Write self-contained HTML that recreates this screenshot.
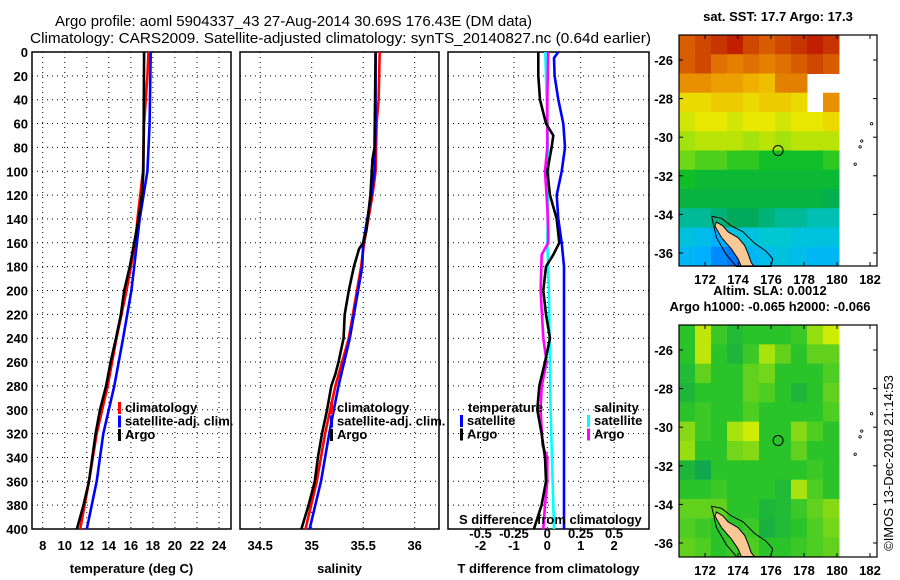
<!DOCTYPE html>
<html><head><meta charset="utf-8"><style>
html,body{margin:0;padding:0;background:#fff;}
svg{display:block;font-family:"Liberation Sans",Arial,sans-serif;}
.tk{font-size:13px;font-weight:bold;}
</style></head><body>
<svg id="c" width="900" height="580" viewBox="0 0 900 580" xmlns="http://www.w3.org/2000/svg">
<text x="55" y="26" font-size="15" textLength="477" lengthAdjust="spacingAndGlyphs">Argo profile: aoml 5904337_43 27-Aug-2014 30.69S 176.43E (DM data)</text>
<text x="30" y="43" font-size="15" textLength="621" lengthAdjust="spacingAndGlyphs">Climatology: CARS2009. Satellite-adjusted climatology: synTS_20140827.nc (0.64d earlier)</text>
<g id="g"></g>
</svg>
<script>
// ---- data ----
const depthArgoT=[0,100,120,140,160,180,200,220,240,260,280,300,320,340,360,380,400];
const tempArgo=[17.2,17.14,17.0,16.7,16.3,15.9,15.4,15.1,14.65,14.16,13.75,13.2,12.8,12.5,12.2,11.7,11.1];
const depthClimT=[0,20,60,100,140,160,180,200,240,280,320,360,400];
const tempClim=[17.6,17.5,17.2,17.1,16.6,16.4,16.0,15.6,14.7,13.9,12.9,12.2,11.4];
const depthSatT=[0,60,100,140,180,200,240,280,320,360,400];
const tempSat=[17.8,17.7,17.5,16.8,16.3,16.05,15.3,14.5,13.5,12.9,12.0];
const depthArgoS=[0,80,90,120,150,160,165,180,200,220,240,260,270,280,300,320,340,360,380,400];
const salArgo=[35.62,35.61,35.59,35.57,35.53,35.50,35.46,35.41,35.36,35.32,35.31,35.26,35.23,35.19,35.15,35.10,35.06,35.03,34.97,34.90];
const depthClimS=[0,40,60,100,120,160,180,200,240,280,320,360,400];
const salClim=[35.66,35.65,35.63,35.62,35.59,35.51,35.48,35.44,35.36,35.23,35.13,35.05,34.94];
const depthSatS=[0,60,100,120,160,180,200,240,280,320,360,400];
const salSat=[35.62,35.62,35.61,35.58,35.50,35.49,35.45,35.37,35.26,35.17,35.09,34.98];
const depthDT=[0,20,40,60,70,80,100,120,140,160,170,180,200,220,240,260,280,300,320,340,360,380,400];
const dTArgo=[-0.27,-0.27,-0.22,-0.04,0.18,0.13,0,0.08,0.28,0.36,0.18,-0.04,-0.12,-0.04,0.08,-0.07,-0.24,-0.3,-0.17,-0.07,-0.04,-0.17,-0.4];
const depthDTs=[0,5,20,40,60,80,100,120,140,160,180,200,300,400];
const dTSat=[0.33,0.2,0.22,0.33,0.48,0.53,0.43,0.28,0.33,0.43,0.5,0.5,0.5,0.5];
const depthDSs=[0,60,100,160,200,300,360,400];
const dSSat=[-0.015,0,0.01,0,0.012,0.025,0.04,0.05];
const depthDSa=[0,40,80,100,130,150,160,170,200,240,260,280,300,330,340,360,380,400];
const dSArgo=[0.007,0,0,-0.017,0,0.007,0.007,-0.042,-0.05,-0.03,-0.005,-0.042,-0.05,-0.035,0,0,-0.017,-0.03];
const tempTicks=[8,10,12,14,16,18,20,22,24];
const salTicks=[34.5,35,35.5,36];
const dTTicks=[-2,-1,0,1,2];
const dSTicks=[-0.5,-0.25,0,0.25,0.5];
const dSTickLabels=["-0.5","-0.25","0","0.25","0.5"];
const depthTicks=[0,20,40,60,80,100,120,140,160,180,200,220,240,260,280,300,320,340,360,380,400];
const sstGrid=[
[18.7,18.8,18.9,19.0,18.8,18.7,18.8,18.9,19.0,18.9],
[18.7,18.8,18.6,18.5,18.6,18.5,18.6,18.7,18.8,18.7],
[18.4,18.4,18.3,18.3,18.2,18.1,18.5,18.5,null,null],
[17.9,17.9,18.0,18.0,17.9,18.0,18.0,17.9,null,18.4],
[17.7,17.8,17.8,17.7,17.8,17.8,17.7,17.8,17.8,17.9],
[17.5,17.6,17.6,17.6,17.5,17.6,17.5,17.6,17.6,17.6],
[17.3,17.2,17.2,17.1,17.1,17.0,17.0,17.0,17.0,17.1],
[17.0,16.9,16.9,16.9,16.9,16.9,16.9,16.9,16.9,16.9],
[16.8,16.8,16.8,16.8,16.8,16.8,16.8,16.8,16.8,16.7],
[16.4,16.4,16.5,16.6,16.6,16.5,16.4,16.4,16.3,16.3],
[16.1,16.0,15.8,16.1,16.1,16.2,16.2,16.1,16.1,16.1],
[15.9,15.8,15.6,15.5,15.9,16.0,16.1,16.0,15.9,15.9]];
const slaGrid=[
[0,0.8,0.1,-0.2,0,0,0,0.1,0.6,0.9],
[0,0.8,0,-0.3,0.1,0.7,0.3,0,0.3,0.3],
[-0.2,0.3,0,0,0.3,0.4,0,0,0,0.2],
[-0.3,0,0,0,0.3,0.2,0,-0.3,0,0.3],
[0,0.1,0,0,0.2,0,0,0,0,0.2],
[0.5,0.1,0,0.7,0.9,0,0,0.5,0.2,0],
[0.6,0,0,0.4,0.5,0,0,0.3,0,0],
[-0.3,-0.6,0,0,0,0,0,0,0.1,0],
[0,0,0.1,0,0,0,-0.2,0.7,0.2,0],
[0.3,0.3,0.3,0,0,-0.3,-0.2,0.1,0.3,0.5],
[0.2,0.1,0,0,0.1,-0.4,-0.2,0,0.2,0.4],
[0.3,0.2,0,0.1,0.2,0,0,0.1,0.2,0.3]];
const lonTicks=[172,174,176,178,180,182];
const latTicks=[-26,-28,-30,-32,-34,-36];
const nzLand=[[172.7,-34.4],[173.1,-34.6],[173.4,-34.9],[174.0,-35.2],[174.4,-35.6],[174.6,-36.0],[174.8,-36.5],[175.0,-36.7],[174.2,-36.7],[174.0,-36.3],[173.6,-35.8],[173.0,-35.2],[172.6,-34.6]];
const nzShelf=[[172.4,-34.1],[173.0,-34.2],[173.6,-34.6],[174.3,-34.9],[175.0,-35.5],[175.7,-35.9],[176.1,-36.3],[176.0,-36.7],[173.9,-36.7],[173.3,-36.1],[172.7,-35.2]];
const argoLon=176.43, argoLat=-30.69;

// ---- helpers ----
const NS="http://www.w3.org/2000/svg";
const G=document.getElementById('g');
function el(t,a,p){const e=document.createElementNS(NS,t);for(const k in a)e.setAttribute(k,a[k]);(p||G).appendChild(e);return e;}
function txt(x,y,s,a){const e=el('text',Object.assign({x:x,y:y},a||{}));e.textContent=s;return e;}
const Y0=52,Y1=529;
const yD=d=>Y0+d/400*(Y1-Y0);
const xT=t=>42.7+(t-8)*11.02;
const xS=s=>311.7+(s-35)*103;
const xDT=v=>547.3+v*33.4;
const xDS=v=>547.3+v*4*33.4;
const panels=[{x0:32,x1:231,name:'temperature-panel'},{x0:240,x1:439,name:'salinity-panel'},{x0:448,x1:649,name:'difference-panel'}];

function panel(p,xs,xf,title,showDepth){
  const g=el('g',{});
  
  
  depthTicks.forEach(d=>{
    const l=el('line',{x1:p.x0,x2:p.x1,y1:yD(d),y2:yD(d),stroke:'#000','stroke-width':1,'stroke-dasharray':'1,4'},g);
    
    
    if(showDepth){
      const t=txt(28,yD(d)+5,String(d),{'text-anchor':'end',class:'tk'});
      
      
    }
  });
  xs.forEach(v=>{
    const x=xf(v);
    const l=el('line',{x1:x,x2:x,y1:Y0,y2:Y1,stroke:'#000','stroke-width':1,'stroke-dasharray':'1,4'},g);
    
    
    const t=txt(x,550,String(v),{'text-anchor':'middle',class:'tk'});
    
    
  });
  const r=el('rect',{x:p.x0,y:Y0,width:p.x1-p.x0,height:Y1-Y0,fill:'none',stroke:'#000','stroke-width':1.5},g);
  
  
  const t=txt((p.x0+p.x1)/2,573,title,{'text-anchor':'middle',class:'tk'});
  
  
}
function line(ds,vs,xf,col,name){
  const pts=ds.map((d,i)=>xf(vs[i]).toFixed(1)+','+yD(d).toFixed(1)).join(' ');
  const e=el('polyline',{points:pts,fill:'none',stroke:col,'stroke-width':2.6});
  
  
}
function legend(x,y,items){
  items.forEach((it,i)=>{
    const yy=y+i*13.5;
    const b=el('rect',{x:x,y:yy-10,width:3,height:12,fill:it[1]});
    
    
    const t=txt(x+7,yy,it[0],{class:'tk'});
    
    
  });
}

panel(panels[0],tempTicks,xT,'temperature (deg C)',true);
panel(panels[1],salTicks,xS,'salinity',false);
panel(panels[2],dTTicks,xDT,'T difference from climatology',false);

line(depthClimT,tempClim,xT,'#f00','temp-climatology-line');
line(depthSatT,tempSat,xT,'#00f','temp-satellite-line');
line(depthArgoT,tempArgo,xT,'#000','temp-argo-line');
line(depthClimS,salClim,xS,'#f00','sal-climatology-line');
line(depthSatS,salSat,xS,'#00f','sal-satellite-line');
line(depthArgoS,salArgo,xS,'#000','sal-argo-line');
line(depthDSs,dSSat,xDS,'#0ff','sdiff-satellite-line');
line(depthDSa,dSArgo,xDS,'#f0f','sdiff-argo-line');
line(depthDT,dTArgo,xDT,'#000','tdiff-argo-line');
line(depthDTs,dTSat,xDT,'#00f','tdiff-satellite-line');

legend(118,412,[['climatology','#f00'],['satellite-adj. clim.','#00f'],['Argo','#000']]);
legend(330,412,[['climatology','#f00'],['satellite-adj. clim.','#00f'],['Argo','#000']]);
let h=txt(468,412,'temperature',{class:'tk'});


legend(460,425,[['satellite','#00f'],['Argo','#000']]);
h=txt(594,412,'salinity',{class:'tk'});


legend(587,425,[['satellite','#0ff'],['Argo','#f0f']]);
h=txt(459,524,'S difference from climatology',{class:'tk'});


dSTicks.forEach((v,i)=>{
  const t=txt(xDS(v),538,dSTickLabels[i],{'text-anchor':'middle',class:'tk'});
  
  
});

// ---- maps ----
const MX0=679,MX1=877,MXD=839;
const lonX=l=>705+(l-172)*16.5;
function sstColor(v){
  const st=[[15.3,[0,80,255]],[15.8,[0,176,255]],[16.2,[0,200,210]],[16.6,[0,170,90]],[17.0,[16,190,40]],[17.4,[140,224,16]],[17.8,[232,232,0]],[18.2,[240,176,0]],[18.6,[224,112,0]],[19.0,[192,32,0]]];
  return interp(st,v);
}
function slaColor(v){return interp([[-1,[0,150,100]],[0,[42,196,42]],[1,[224,240,0]]],v);}
function interp(st,v){
  if(v<=st[0][0])return 'rgb('+st[0][1]+')';
  for(let i=1;i<st.length;i++){if(v<=st[i][0]){const f=(v-st[i-1][0])/(st[i][0]-st[i-1][0]);const c=st[i-1][1].map((a,k)=>Math.round(a+(st[i][1][k]-a)*f));return 'rgb('+c+')';}}
  return 'rgb('+st[st.length-1][1]+')';
}
function map(MY0,MY1,grid,cf,name,titles){
  const latY=l=>MY0+25+(-26-l)*19.3;
  const g=el('g',{});
  
  
  const rows=grid.length,cols=grid[0].length,cw=(MXD-MX0)/cols,ch=(MY1-MY0)/rows;
  grid.forEach((row,r)=>row.forEach((v,c)=>{
    if(v===null)return;
    const e=el('rect',{x:MX0+c*cw,y:MY0+r*ch,width:cw+0.5,height:ch+0.5,fill:cf(v)},g);
    
    
  }));
  const pt=a=>a.map(p=>lonX(p[0]).toFixed(1)+','+latY(p[1]).toFixed(1)).join(' ');
  let e=el('polygon',{points:pt(nzShelf),fill:'none',stroke:'#000','stroke-width':1},g);
  
  
  e=el('polygon',{points:pt(nzLand),fill:'#f9c896',stroke:'#000','stroke-width':1},g);
  
  
  e=el('circle',{cx:lonX(argoLon),cy:latY(argoLat),r:5,fill:'none',stroke:'#000','stroke-width':1},g);
  
  
  [[182.1,-29.3],[181.5,-30.2],[181.4,-30.5],[181.1,-31.4]].forEach(p=>{
    const d=el('circle',{cx:lonX(p[0]),cy:latY(p[1]),r:1.2,fill:'none',stroke:'#000','stroke-width':0.8},g);
    
    
  });
  e=el('rect',{x:MX0,y:MY0,width:MX1-MX0,height:MY1-MY0,fill:'none',stroke:'#000','stroke-width':1.2},g);
  
  
  lonTicks.forEach(l=>{
    const x=lonX(l);
    el('line',{x1:x,x2:x,y1:MY0,y2:MY0+4,stroke:'#000'},g);
    el('line',{x1:x,x2:x,y1:MY1,y2:MY1-4,stroke:'#000'},g);
    const t=txt(x,MY1+18,String(l),{'text-anchor':'middle',class:'tk'});
    
    
  });
  latTicks.forEach(l=>{
    const y=latY(l);
    el('line',{x1:MX0,x2:MX0+4,y1:y,y2:y,stroke:'#000'},g);
    el('line',{x1:MX1,x2:MX1-4,y1:y,y2:y,stroke:'#000'},g);
    const t=txt(673,y+5,String(l),{'text-anchor':'end',class:'tk'});
    
    
  });
  titles.forEach((s,i)=>{
    const t=txt(titles.length>1?770:778,MY0-14-(titles.length-1-i)*16,s,{'text-anchor':'middle',class:'tk'});
    
    
  });
}
map(35,266,sstGrid,sstColor,'sst-map',['sat. SST: 17.7 Argo: 17.3']);
map(325,557,slaGrid,slaColor,'sla-map',['Altim. SLA: 0.0012','Argo h1000: -0.065 h2000: -0.066']);
const cr=txt(0,0,'©IMOS 13-Dec-2018 21:14:53',{style:'font-size:13px;font-weight:normal','text-anchor':'middle',transform:'translate(893,463) rotate(-90)'});


</script>
</body></html>
